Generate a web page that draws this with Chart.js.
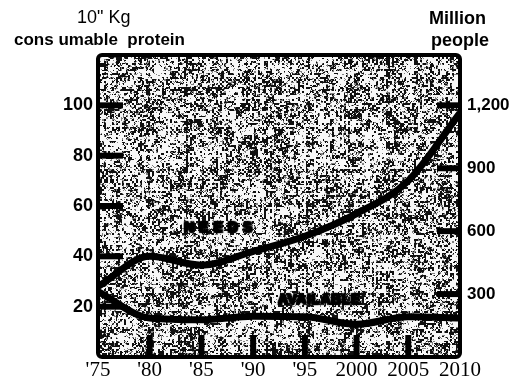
<!DOCTYPE html>
<html>
<head>
<meta charset="utf-8">
<script src="https://cdn.jsdelivr.net/npm/chart.js@4.4.1/dist/chart.umd.min.js"></script>
<style>
  html, body { margin: 0; padding: 0; background: #fff; }
  #wrap { position: relative; width: 516px; height: 384px; }
  .t { position: absolute; color: #000; font-family: "Liberation Sans", Arial, sans-serif; white-space: pre; line-height: 1; }
  .blob { font-weight: 900; color: #000; text-shadow: 0 0 2px #000, 1px 1px 1px #000, -1px -1px 1px #000, 1px -1px 1px #000, -1px 1px 1px #000; }
</style>
</head>
<body>
<div id="wrap">
  <canvas id="c" width="516" height="384"></canvas>
  <div class="t" style="left:77px; top:8px; font-size:18px;">10" Kg</div>
  <div class="t" style="left:14px; top:31px; font-size:17px; font-weight:bold;">cons umable  protein</div>
  <div class="t" style="left:429px; top:9px; font-size:18px; font-weight:bold;">Million</div>
  <div class="t" style="left:431px; top:31px; font-size:18px; font-weight:bold;">people</div>
  <div class="t blob" style="left:184px; top:220px; font-size:14px; letter-spacing:5px;">NEEDS</div>
  <div class="t blob" style="left:278px; top:292px; font-size:14px; letter-spacing:0.5px;">AVAILABLE</div>
</div>
<script>
// ---- data ----
const years = [1975, 1980, 1985, 1990, 1995, 2000, 2005, 2010];
const needs = [28, 40, 36.5, 42, 48, 57, 70, 97];          // 10^x kg consumable protein
const available = [26, 15.5, 14.8, 16.2, 16, 13, 16, 15.5];
const yearLabels = ["'75", "'80", "'85", "'90", "'95", "2000", "2005", "2010"];
const leftTicks = [20, 40, 60, 80, 100];
const rightTicks = [300, 600, 900, 1200];
const tickBarYears = [1980, 1985, 1990, 1995, 2000, 2005];

function hash(x, y) {
  let h = (Math.imul(x, 374761393) + Math.imul(y, 668265263)) | 0;
  h = Math.imul(h ^ (h >>> 13), 1274126177);
  h = h ^ (h >>> 16);
  return (h >>> 0) / 4294967296;
}

const texture = {
  id: 'texture',
  beforeDatasetsDraw(chart) {
    const a = chart.chartArea, ctx = chart.ctx;
    const r = chart.currentDevicePixelRatio || 1;
    const x0 = Math.round(a.left * r), y0 = Math.round(a.top * r);
    const w = Math.round((a.right - a.left) * r), h = Math.round((a.bottom - a.top) * r);
    const img = ctx.getImageData(x0, y0, w, h);
    const d = img.data;
    for (let j = 0; j < h; j++) {
      const rs = hash(7, j >> 1);
      for (let i = 0; i < w; i++) {
        const cs = hash(i >> 1, 3);
        const v = 0.4 * hash(i >> 1, j >> 1) + 0.2 * hash(i, j + 5) + 0.2 * hash(i >> 3, (j >> 3) + 999) + 0.1 * cs + 0.1 * rs;
        const g = v < 0.43 ? 15 : (v < 0.48 ? 130 : 248);
        const k = (j * w + i) * 4;
        d[k] = d[k + 1] = d[k + 2] = g; d[k + 3] = 255;
      }
    }
    ctx.putImageData(img, x0, y0);
  },
  afterDatasetsDraw(chart) {
    const a = chart.chartArea, ctx = chart.ctx;
    const yl = chart.scales.y, yr = chart.scales.y2, x = chart.scales.x;
    ctx.save();
    ctx.fillStyle = '#000';
    leftTicks.forEach(v => { const p = yl.getPixelForValue(v); ctx.fillRect(a.left, p - 3, 25, 6); });
    rightTicks.forEach(v => { const p = yr.getPixelForValue(v); ctx.fillRect(a.right - 23, p - 3, 23, 6); });
    tickBarYears.forEach(v => { const p = x.getPixelForValue(v); ctx.fillRect(p - 3, a.bottom - 22, 6, 22); });
    ctx.strokeStyle = '#000';
    ctx.lineWidth = 4;
    ctx.lineJoin = 'round';
    ctx.beginPath();
    ctx.roundRect(a.left, a.top, a.right - a.left, a.bottom - a.top, 4);
    ctx.stroke();
    ctx.restore();
  }
};

new Chart(document.getElementById('c'), {
  type: 'line',
  data: {
    datasets: [
      { label: 'Needs', data: years.map((y, i) => ({ x: y, y: needs[i] })), yAxisID: 'y',
        borderColor: '#000', borderWidth: 7, pointRadius: 0, tension: 0.35, cubicInterpolationMode: 'monotone', fill: false },
      { label: 'Available', data: years.map((y, i) => ({ x: y, y: available[i] })), yAxisID: 'y',
        borderColor: '#000', borderWidth: 7, pointRadius: 0, tension: 0.35, cubicInterpolationMode: 'monotone', fill: false }
    ]
  },
  options: {
    responsive: false,
    animation: false,
    devicePixelRatio: 1,
    layout: { padding: { top: 55, left: 0, right: 0, bottom: 0 } },
    plugins: { legend: { display: false }, tooltip: { enabled: false } },
    scales: {
      x: {
        type: 'linear', min: 1975, max: 2010,
        afterBuildTicks(s) { s.ticks = years.map(v => ({ value: v })); },
        afterFit(s) { s.height = 27; },
        grid: { display: false, drawTicks: false },
        border: { display: false },
        ticks: {
          autoSkip: false, maxRotation: 0, padding: 1, color: '#000',
          font: { family: '"Liberation Serif", "Times New Roman", serif', size: 21 },
          callback(v) { const i = years.indexOf(v); return i >= 0 ? yearLabels[i] : ''; }
        }
      },
      y: {
        position: 'left', min: 0, max: 120,
        afterBuildTicks(s) { s.ticks = leftTicks.map(v => ({ value: v })); },
        afterFit(s) { s.width = 98; },
        grid: { display: false, drawTicks: false },
        border: { display: false },
        ticks: { padding: 5, color: '#000', font: { family: '"Liberation Sans", Arial, sans-serif', size: 18, weight: 'bold' } }
      },
      y2: {
        position: 'right', min: 0, max: 1440,
        afterBuildTicks(s) { s.ticks = rightTicks.map(v => ({ value: v })); },
        afterFit(s) { s.width = 56; },
        grid: { display: false, drawTicks: false },
        border: { display: false },
        ticks: {
          padding: 7, color: '#000', font: { family: '"Liberation Sans", Arial, sans-serif', size: 17, weight: 'bold' },
          callback(v) { return v.toLocaleString('en-US'); }
        }
      }
    }
  },
  plugins: [texture]
});
</script>
</body>
</html>
